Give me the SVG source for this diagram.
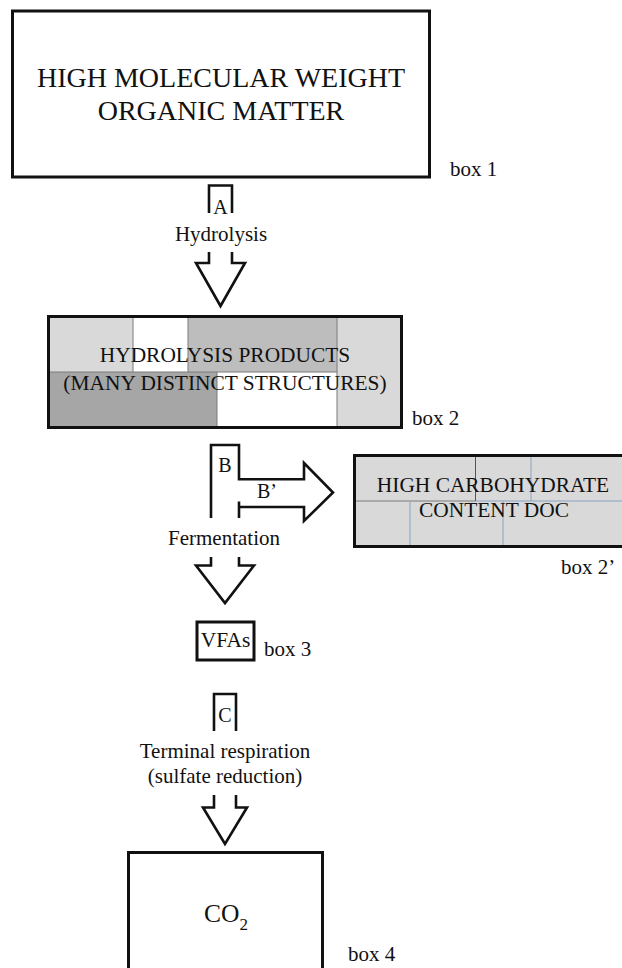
<svg xmlns="http://www.w3.org/2000/svg" width="622" height="968" viewBox="0 0 622 968">
<style>
text{font-family:"Liberation Serif","Times New Roman",serif;fill:#111;}
.big{font-size:28px;text-anchor:middle;}
.mid{font-size:21.4px;text-anchor:middle;}
.lbl{font-size:21px;}
.step{font-size:20px;text-anchor:middle;}
.box{fill:none;stroke:#111;stroke-width:3;}
.arr{fill:none;stroke:#111;stroke-width:2.6;stroke-linejoin:miter;}
.cell{stroke:none;}
.div{stroke:#7a7a7a;stroke-width:1;}
.blue{stroke:#8aa3c2;stroke-width:1;}
</style>
<rect width="622" height="968" fill="#fff"/>

<g id="box1">
<rect class="box" x="12.5" y="11" width="417" height="166"/>
<text class="big" x="221" y="87">HIGH MOLECULAR WEIGHT</text>
<text class="big" x="221" y="120">ORGANIC MATTER</text>
<text class="lbl" x="450" y="176">box 1</text>
</g>

<g id="box2">
<rect class="cell" x="48" y="316" width="85" height="56" fill="#d9d9d9"/>
<rect class="cell" x="133" y="316" width="55" height="56" fill="#ffffff"/>
<rect class="cell" x="188" y="316" width="149" height="56" fill="#bdbdbd"/>
<rect class="cell" x="337" y="316" width="65" height="112" fill="#d9d9d9"/>
<rect class="cell" x="48" y="372" width="169" height="56" fill="#a6a6a6"/>
<rect class="cell" x="217" y="372" width="120" height="56" fill="#ffffff"/>
<line class="div" x1="48" y1="372" x2="337" y2="372"/>
<line class="div" x1="133" y1="316" x2="133" y2="372"/>
<line class="div" x1="188" y1="316" x2="188" y2="372"/>
<line class="div" x1="337" y1="316" x2="337" y2="428"/>
<line class="div" x1="217" y1="372" x2="217" y2="428"/>
<rect class="box" x="48.5" y="316.5" width="353" height="111"/>
<text class="mid" x="225" y="362">HYDROLYSIS PRODUCTS</text>
<text class="mid" x="225" y="390">(MANY DISTINCT STRUCTURES)</text>
<text class="lbl" x="412" y="425">box 2</text>
</g>

<g id="box2prime">
<rect class="cell" x="354" y="455" width="270" height="92" fill="#d9d9d9"/>
<line class="div" x1="354" y1="501" x2="475" y2="501"/>
<line class="blue" x1="475" y1="501" x2="624" y2="501"/>
<line x1="475.5" y1="455" x2="475.5" y2="501" stroke="#555" stroke-width="1"/>
<line class="blue" x1="531" y1="455" x2="531" y2="501"/>
<line class="blue" x1="410" y1="501" x2="410" y2="547"/>
<line class="blue" x1="503" y1="501" x2="503" y2="547"/>
<rect class="box" x="354.5" y="455.5" width="272" height="91"/>
<text class="mid" x="493" y="492">HIGH CARBOHYDRATE</text>
<text class="mid" x="494" y="517">CONTENT DOC</text>
<text class="lbl" x="561" y="574">box 2’</text>
</g>

<g id="box3">
<rect class="box" x="197" y="622" width="57" height="38" stroke-width="2.6"/>
<text class="mid" x="225.5" y="647">VFAs</text>
<text class="lbl" x="264" y="656">box 3</text>
</g>

<g id="box4">
<rect class="box" x="128.5" y="852.5" width="194" height="130"/>
<text x="226" y="922" style="font-size:25.5px;text-anchor:middle">CO<tspan dy="8" style="font-size:17px">2</tspan></text>
<text class="lbl" x="348" y="961">box 4</text>
</g>

<g id="connectors">
<polyline class="arr" points="209,213 209,185.5 232,185.5 232,213"/>
<text class="step" x="220.5" y="214">A</text>
<text class="mid" x="221" y="241" style="font-size:21px">Hydrolysis</text>
<polyline class="arr" points="209,252 209,263 196,263 220.5,306 245,263 232,263 232,252"/>

<polyline class="arr" points="211,518 211,445 239,445 239,479.3 304,479.3 304,463 333,492.5 304,521 304,507 239,507"/>
<line class="arr" x1="239" y1="501.5" x2="239" y2="518"/>
<text class="step" x="225" y="472">B</text>
<text class="step" x="267" y="498">B’</text>
<text class="mid" x="224" y="545" style="font-size:21px">Fermentation</text>
<polyline class="arr" points="211,557 211,565.5 196,565.5 225,603 254,565.5 239,565.5 239,557"/>

<polyline class="arr" points="214,731 214,694 236,694 236,731"/>
<text class="step" x="225" y="722">C</text>
<text class="mid" x="225" y="758" style="font-size:21px">Terminal respiration</text>
<text class="mid" x="225" y="783" style="font-size:21px">(sulfate reduction)</text>
<polyline class="arr" points="214,795 214,807.5 203,807.5 225,844 247,807.5 236,807.5 236,795"/>
</g>
</svg>
